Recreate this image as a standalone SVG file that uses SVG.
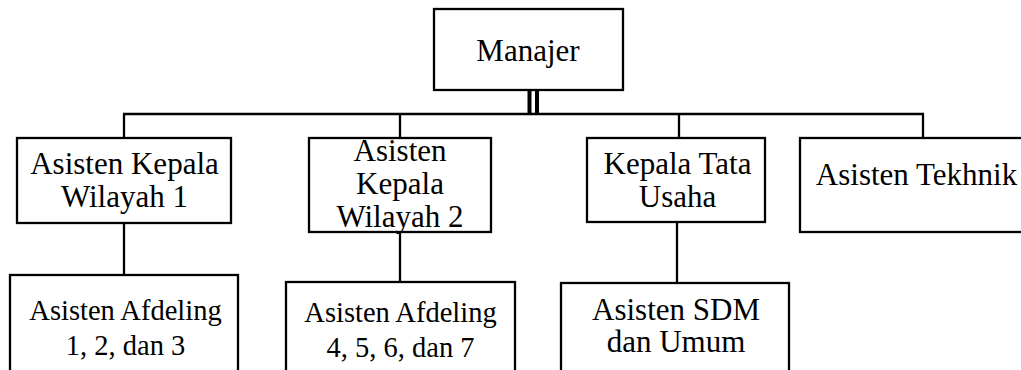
<svg xmlns="http://www.w3.org/2000/svg" width="1021" height="370" viewBox="0 0 1021 370">
<style>
.box{fill:#fff;stroke:#000;stroke-width:2.3}
.ln{stroke:#000;stroke-width:2.3;fill:none}
.dbl{stroke:#000;stroke-width:4;fill:none}
text{font-family:"Liberation Serif","Times New Roman",serif;font-size:31px;fill:#000;text-anchor:middle}
.sm{font-size:28.5px}
</style>
<rect width="1021" height="370" fill="#fff"/>
<g id="connectors">
<line class="dbl" x1="529.5" y1="90" x2="529.5" y2="114"/>
<line class="dbl" x1="537" y1="90" x2="537" y2="114"/>
<line class="ln" x1="123" y1="114" x2="924" y2="114" style="stroke-width:2.5"/>
<line class="ln" x1="124" y1="114" x2="124" y2="138"/>
<line class="ln" x1="400" y1="114" x2="400" y2="138"/>
<line class="ln" x1="679" y1="114" x2="679" y2="138"/>
<line class="ln" x1="923" y1="114" x2="923" y2="138"/>
<line class="ln" x1="124" y1="223" x2="124" y2="275"/>
<line class="ln" x1="400" y1="232" x2="400" y2="282"/>
<line class="ln" x1="677" y1="222" x2="677" y2="283"/>
</g>
<g id="manajer">
<rect class="box" x="434" y="9" width="189" height="81"/>
<text x="528" y="61">Manajer</text>
</g>
<g id="akw1">
<rect class="box" x="17" y="138" width="214" height="85"/>
<text x="124.5" y="174">Asisten Kepala</text>
<text x="124.5" y="207">Wilayah 1</text>
</g>
<g id="akw2">
<rect class="box" x="309" y="138" width="182" height="94"/>
<text x="400" y="161">Asisten</text>
<text x="400" y="194">Kepala</text>
<text x="400" y="227">Wilayah 2</text>
</g>
<g id="ktu">
<rect class="box" x="587" y="138" width="178" height="84"/>
<text x="677.5" y="174">Kepala Tata</text>
<text x="677.5" y="207">Usaha</text>
</g>
<g id="tekhnik">
<rect class="box" x="800" y="138" width="226" height="94"/>
<text x="916.5" y="185">Asisten Tekhnik</text>
</g>
<g id="afd123">
<rect class="box" x="10" y="275" width="228" height="100"/>
<text class="sm" x="125.5" y="320">Asisten Afdeling</text>
<text class="sm" x="125.5" y="355">1, 2, dan 3</text>
</g>
<g id="afd4567">
<rect class="box" x="286" y="282" width="229" height="93"/>
<text class="sm" x="400.5" y="322">Asisten Afdeling</text>
<text class="sm" x="400.5" y="357">4, 5, 6, dan 7</text>
</g>
<g id="sdm">
<rect class="box" x="561" y="283" width="228" height="92"/>
<text x="676" y="320">Asisten SDM</text>
<text x="676" y="352">dan Umum</text>
</g>
</svg>
